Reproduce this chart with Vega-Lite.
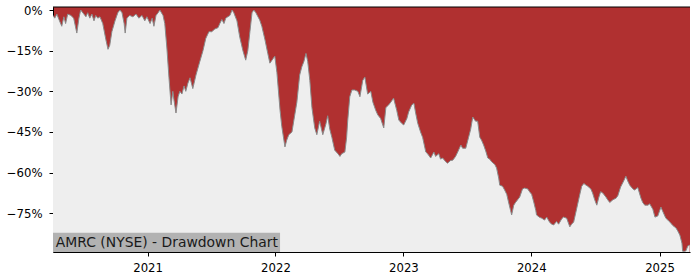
{
  "$schema": "https://vega.github.io/schema/vega-lite/v6.json",
  "width": 637,
  "height": 245,
  "autosize": "none",
  "padding": {"left": 53, "top": 7, "right": 10, "bottom": 28},
  "background": "white",
  "config": {
    "view": {"fill": "#b03030", "stroke": null},
    "font": "DejaVu Sans",
    "axis": {
      "grid": false,
      "domainColor": "black",
      "domainWidth": 1,
      "tickColor": "black",
      "tickWidth": 1,
      "tickSize": 4,
      "labelColor": "black",
      "labelFont": "DejaVu Sans",
      "labelFontSize": 11.7,
      "title": null,
      "zindex": 1
    }
  },
  "data": {
    "values": [
      {"date": "2020-04-06", "drawdown": -0.02},
      {"date": "2020-04-11", "drawdown": -0.03},
      {"date": "2020-04-17", "drawdown": -0.015},
      {"date": "2020-04-23", "drawdown": -0.035},
      {"date": "2020-05-01", "drawdown": -0.06},
      {"date": "2020-05-07", "drawdown": -0.025},
      {"date": "2020-05-12", "drawdown": -0.05},
      {"date": "2020-05-18", "drawdown": -0.015},
      {"date": "2020-05-27", "drawdown": -0.02},
      {"date": "2020-06-04", "drawdown": -0.03},
      {"date": "2020-06-13", "drawdown": -0.085},
      {"date": "2020-06-19", "drawdown": -0.03},
      {"date": "2020-06-24", "drawdown": 0},
      {"date": "2020-07-03", "drawdown": -0.015},
      {"date": "2020-07-09", "drawdown": -0.025},
      {"date": "2020-07-14", "drawdown": -0.01},
      {"date": "2020-07-20", "drawdown": -0.03},
      {"date": "2020-07-26", "drawdown": -0.015},
      {"date": "2020-08-01", "drawdown": -0.04},
      {"date": "2020-08-06", "drawdown": -0.02},
      {"date": "2020-08-12", "drawdown": -0.03},
      {"date": "2020-08-18", "drawdown": -0.025},
      {"date": "2020-08-26", "drawdown": -0.05},
      {"date": "2020-09-04", "drawdown": -0.11},
      {"date": "2020-09-10", "drawdown": -0.145},
      {"date": "2020-09-15", "drawdown": -0.13},
      {"date": "2020-09-21", "drawdown": -0.08},
      {"date": "2020-09-30", "drawdown": -0.04},
      {"date": "2020-10-08", "drawdown": -0.01},
      {"date": "2020-10-14", "drawdown": 0},
      {"date": "2020-10-20", "drawdown": -0.01},
      {"date": "2020-10-26", "drawdown": -0.05},
      {"date": "2020-10-29", "drawdown": -0.085},
      {"date": "2020-11-03", "drawdown": -0.03},
      {"date": "2020-11-11", "drawdown": -0.02},
      {"date": "2020-11-20", "drawdown": -0.025},
      {"date": "2020-11-29", "drawdown": -0.015},
      {"date": "2020-12-07", "drawdown": -0.03},
      {"date": "2020-12-16", "drawdown": -0.02},
      {"date": "2020-12-24", "drawdown": -0.04},
      {"date": "2020-12-30", "drawdown": -0.025},
      {"date": "2021-01-08", "drawdown": -0.05},
      {"date": "2021-01-14", "drawdown": -0.03},
      {"date": "2021-01-19", "drawdown": -0.06},
      {"date": "2021-01-25", "drawdown": -0.02},
      {"date": "2021-01-31", "drawdown": -0.01},
      {"date": "2021-02-05", "drawdown": 0},
      {"date": "2021-02-14", "drawdown": -0.02},
      {"date": "2021-02-19", "drawdown": -0.05},
      {"date": "2021-02-25", "drawdown": -0.14},
      {"date": "2021-03-03", "drawdown": -0.25},
      {"date": "2021-03-09", "drawdown": -0.35},
      {"date": "2021-03-11", "drawdown": -0.33},
      {"date": "2021-03-14", "drawdown": -0.30},
      {"date": "2021-03-17", "drawdown": -0.33},
      {"date": "2021-03-23", "drawdown": -0.38},
      {"date": "2021-03-29", "drawdown": -0.32},
      {"date": "2021-04-03", "drawdown": -0.30},
      {"date": "2021-04-09", "drawdown": -0.31},
      {"date": "2021-04-15", "drawdown": -0.28},
      {"date": "2021-04-20", "drawdown": -0.30},
      {"date": "2021-04-26", "drawdown": -0.27},
      {"date": "2021-05-02", "drawdown": -0.25},
      {"date": "2021-05-10", "drawdown": -0.29},
      {"date": "2021-05-19", "drawdown": -0.24},
      {"date": "2021-05-30", "drawdown": -0.19},
      {"date": "2021-06-08", "drawdown": -0.15},
      {"date": "2021-06-16", "drawdown": -0.105},
      {"date": "2021-06-25", "drawdown": -0.08},
      {"date": "2021-07-03", "drawdown": -0.08},
      {"date": "2021-07-12", "drawdown": -0.07},
      {"date": "2021-07-21", "drawdown": -0.065},
      {"date": "2021-07-26", "drawdown": -0.05},
      {"date": "2021-08-01", "drawdown": -0.035},
      {"date": "2021-08-07", "drawdown": -0.05},
      {"date": "2021-08-12", "drawdown": -0.03},
      {"date": "2021-08-18", "drawdown": -0.025},
      {"date": "2021-08-24", "drawdown": -0.02},
      {"date": "2021-08-30", "drawdown": 0},
      {"date": "2021-09-04", "drawdown": -0.01},
      {"date": "2021-09-13", "drawdown": -0.04},
      {"date": "2021-09-21", "drawdown": -0.10},
      {"date": "2021-09-30", "drawdown": -0.15},
      {"date": "2021-10-08", "drawdown": -0.185},
      {"date": "2021-10-14", "drawdown": -0.15},
      {"date": "2021-10-20", "drawdown": -0.08},
      {"date": "2021-10-26", "drawdown": -0.01},
      {"date": "2021-10-31", "drawdown": 0},
      {"date": "2021-11-06", "drawdown": -0.01},
      {"date": "2021-11-12", "drawdown": -0.025},
      {"date": "2021-11-17", "drawdown": -0.037},
      {"date": "2021-11-23", "drawdown": -0.06},
      {"date": "2021-12-02", "drawdown": -0.11},
      {"date": "2021-12-10", "drawdown": -0.16},
      {"date": "2021-12-16", "drawdown": -0.196},
      {"date": "2021-12-22", "drawdown": -0.185},
      {"date": "2021-12-30", "drawdown": -0.17},
      {"date": "2022-01-05", "drawdown": -0.23},
      {"date": "2022-01-14", "drawdown": -0.37},
      {"date": "2022-01-19", "drawdown": -0.43},
      {"date": "2022-01-28", "drawdown": -0.505},
      {"date": "2022-02-02", "drawdown": -0.48},
      {"date": "2022-02-08", "drawdown": -0.46},
      {"date": "2022-02-17", "drawdown": -0.45},
      {"date": "2022-02-22", "drawdown": -0.41},
      {"date": "2022-03-03", "drawdown": -0.34},
      {"date": "2022-03-11", "drawdown": -0.24},
      {"date": "2022-03-17", "drawdown": -0.21},
      {"date": "2022-03-23", "drawdown": -0.19},
      {"date": "2022-03-29", "drawdown": -0.16},
      {"date": "2022-04-03", "drawdown": -0.19},
      {"date": "2022-04-09", "drawdown": -0.26},
      {"date": "2022-04-15", "drawdown": -0.36},
      {"date": "2022-04-23", "drawdown": -0.435},
      {"date": "2022-04-29", "drawdown": -0.46},
      {"date": "2022-05-07", "drawdown": -0.41},
      {"date": "2022-05-16", "drawdown": -0.46},
      {"date": "2022-05-25", "drawdown": -0.42},
      {"date": "2022-05-30", "drawdown": -0.39},
      {"date": "2022-06-05", "drawdown": -0.44},
      {"date": "2022-06-11", "drawdown": -0.47},
      {"date": "2022-06-19", "drawdown": -0.517},
      {"date": "2022-06-28", "drawdown": -0.53},
      {"date": "2022-07-04", "drawdown": -0.54},
      {"date": "2022-07-09", "drawdown": -0.53},
      {"date": "2022-07-18", "drawdown": -0.524},
      {"date": "2022-07-23", "drawdown": -0.47},
      {"date": "2022-07-26", "drawdown": -0.41},
      {"date": "2022-08-01", "drawdown": -0.32},
      {"date": "2022-08-07", "drawdown": -0.295},
      {"date": "2022-08-15", "drawdown": -0.295},
      {"date": "2022-08-24", "drawdown": -0.30},
      {"date": "2022-08-30", "drawdown": -0.32},
      {"date": "2022-09-07", "drawdown": -0.26},
      {"date": "2022-09-13", "drawdown": -0.247},
      {"date": "2022-09-21", "drawdown": -0.31},
      {"date": "2022-09-30", "drawdown": -0.30},
      {"date": "2022-10-06", "drawdown": -0.34},
      {"date": "2022-10-14", "drawdown": -0.37},
      {"date": "2022-10-20", "drawdown": -0.387},
      {"date": "2022-10-28", "drawdown": -0.40},
      {"date": "2022-11-06", "drawdown": -0.435},
      {"date": "2022-11-12", "drawdown": -0.36},
      {"date": "2022-11-20", "drawdown": -0.35},
      {"date": "2022-11-26", "drawdown": -0.34},
      {"date": "2022-12-04", "drawdown": -0.325},
      {"date": "2022-12-13", "drawdown": -0.37},
      {"date": "2022-12-19", "drawdown": -0.406},
      {"date": "2022-12-27", "drawdown": -0.418},
      {"date": "2023-01-02", "drawdown": -0.424},
      {"date": "2023-01-11", "drawdown": -0.40},
      {"date": "2023-01-16", "drawdown": -0.376},
      {"date": "2023-01-25", "drawdown": -0.35},
      {"date": "2023-01-31", "drawdown": -0.344},
      {"date": "2023-02-05", "drawdown": -0.38},
      {"date": "2023-02-11", "drawdown": -0.418},
      {"date": "2023-02-19", "drawdown": -0.45},
      {"date": "2023-02-25", "drawdown": -0.47},
      {"date": "2023-03-06", "drawdown": -0.524},
      {"date": "2023-03-11", "drawdown": -0.53},
      {"date": "2023-03-20", "drawdown": -0.546},
      {"date": "2023-03-29", "drawdown": -0.524},
      {"date": "2023-04-03", "drawdown": -0.54},
      {"date": "2023-04-12", "drawdown": -0.53},
      {"date": "2023-04-17", "drawdown": -0.55},
      {"date": "2023-04-23", "drawdown": -0.546},
      {"date": "2023-05-02", "drawdown": -0.56},
      {"date": "2023-05-07", "drawdown": -0.565},
      {"date": "2023-05-16", "drawdown": -0.555},
      {"date": "2023-05-22", "drawdown": -0.554},
      {"date": "2023-05-30", "drawdown": -0.54},
      {"date": "2023-06-05", "drawdown": -0.524},
      {"date": "2023-06-14", "drawdown": -0.498},
      {"date": "2023-06-19", "drawdown": -0.51},
      {"date": "2023-06-28", "drawdown": -0.51},
      {"date": "2023-07-06", "drawdown": -0.47},
      {"date": "2023-07-12", "drawdown": -0.44},
      {"date": "2023-07-18", "drawdown": -0.395},
      {"date": "2023-07-26", "drawdown": -0.41},
      {"date": "2023-08-01", "drawdown": -0.41},
      {"date": "2023-08-07", "drawdown": -0.469},
      {"date": "2023-08-12", "drawdown": -0.48},
      {"date": "2023-08-18", "drawdown": -0.498},
      {"date": "2023-08-24", "drawdown": -0.52},
      {"date": "2023-08-30", "drawdown": -0.546},
      {"date": "2023-09-04", "drawdown": -0.55},
      {"date": "2023-09-10", "drawdown": -0.56},
      {"date": "2023-09-19", "drawdown": -0.57},
      {"date": "2023-09-24", "drawdown": -0.583},
      {"date": "2023-09-30", "drawdown": -0.62},
      {"date": "2023-10-03", "drawdown": -0.646},
      {"date": "2023-10-11", "drawdown": -0.65},
      {"date": "2023-10-17", "drawdown": -0.664},
      {"date": "2023-10-23", "drawdown": -0.68},
      {"date": "2023-10-28", "drawdown": -0.708},
      {"date": "2023-11-03", "drawdown": -0.74},
      {"date": "2023-11-06", "drawdown": -0.756},
      {"date": "2023-11-12", "drawdown": -0.72},
      {"date": "2023-11-17", "drawdown": -0.71},
      {"date": "2023-11-23", "drawdown": -0.70},
      {"date": "2023-11-29", "drawdown": -0.69},
      {"date": "2023-12-07", "drawdown": -0.66},
      {"date": "2023-12-13", "drawdown": -0.657},
      {"date": "2023-12-22", "drawdown": -0.66},
      {"date": "2023-12-27", "drawdown": -0.67},
      {"date": "2024-01-02", "drawdown": -0.68},
      {"date": "2024-01-08", "drawdown": -0.708},
      {"date": "2024-01-14", "drawdown": -0.74},
      {"date": "2024-01-16", "drawdown": -0.756},
      {"date": "2024-01-25", "drawdown": -0.765},
      {"date": "2024-01-31", "drawdown": -0.768},
      {"date": "2024-02-08", "drawdown": -0.775},
      {"date": "2024-02-14", "drawdown": -0.764},
      {"date": "2024-02-22", "drawdown": -0.782},
      {"date": "2024-02-28", "drawdown": -0.79},
      {"date": "2024-03-05", "drawdown": -0.793},
      {"date": "2024-03-13", "drawdown": -0.78},
      {"date": "2024-03-19", "drawdown": -0.79},
      {"date": "2024-03-28", "drawdown": -0.77},
      {"date": "2024-04-02", "drawdown": -0.764},
      {"date": "2024-04-11", "drawdown": -0.768},
      {"date": "2024-04-20", "drawdown": -0.80},
      {"date": "2024-04-25", "drawdown": -0.79},
      {"date": "2024-05-01", "drawdown": -0.782},
      {"date": "2024-05-10", "drawdown": -0.73},
      {"date": "2024-05-18", "drawdown": -0.683},
      {"date": "2024-05-24", "drawdown": -0.65},
      {"date": "2024-05-30", "drawdown": -0.64},
      {"date": "2024-06-04", "drawdown": -0.645},
      {"date": "2024-06-10", "drawdown": -0.65},
      {"date": "2024-06-19", "drawdown": -0.66},
      {"date": "2024-06-24", "drawdown": -0.675},
      {"date": "2024-06-30", "drawdown": -0.70},
      {"date": "2024-07-06", "drawdown": -0.72},
      {"date": "2024-07-12", "drawdown": -0.69},
      {"date": "2024-07-17", "drawdown": -0.67},
      {"date": "2024-07-23", "drawdown": -0.675},
      {"date": "2024-08-01", "drawdown": -0.69},
      {"date": "2024-08-06", "drawdown": -0.70},
      {"date": "2024-08-12", "drawdown": -0.71},
      {"date": "2024-08-21", "drawdown": -0.70},
      {"date": "2024-08-30", "drawdown": -0.694},
      {"date": "2024-09-04", "drawdown": -0.685},
      {"date": "2024-09-12", "drawdown": -0.653},
      {"date": "2024-09-21", "drawdown": -0.63},
      {"date": "2024-09-27", "drawdown": -0.613},
      {"date": "2024-10-02", "drawdown": -0.63},
      {"date": "2024-10-08", "drawdown": -0.646},
      {"date": "2024-10-17", "drawdown": -0.66},
      {"date": "2024-10-22", "drawdown": -0.664},
      {"date": "2024-10-31", "drawdown": -0.655},
      {"date": "2024-11-09", "drawdown": -0.694},
      {"date": "2024-11-14", "drawdown": -0.71},
      {"date": "2024-11-20", "drawdown": -0.72},
      {"date": "2024-11-29", "drawdown": -0.72},
      {"date": "2024-12-04", "drawdown": -0.715},
      {"date": "2024-12-13", "drawdown": -0.735},
      {"date": "2024-12-19", "drawdown": -0.764},
      {"date": "2024-12-27", "drawdown": -0.76},
      {"date": "2025-01-05", "drawdown": -0.727},
      {"date": "2025-01-11", "drawdown": -0.745},
      {"date": "2025-01-19", "drawdown": -0.768},
      {"date": "2025-01-25", "drawdown": -0.775},
      {"date": "2025-02-02", "drawdown": -0.786},
      {"date": "2025-02-08", "drawdown": -0.795},
      {"date": "2025-02-17", "drawdown": -0.804},
      {"date": "2025-02-22", "drawdown": -0.815},
      {"date": "2025-02-28", "drawdown": -0.83},
      {"date": "2025-03-06", "drawdown": -0.86},
      {"date": "2025-03-08", "drawdown": -0.89},
      {"date": "2025-03-14", "drawdown": -0.89},
      {"date": "2025-03-17", "drawdown": -0.889},
      {"date": "2025-03-23", "drawdown": -0.87},
      {"date": "2025-03-28", "drawdown": -0.867}
    ]
  },
  "layer": [
    {
      "mark": {"type": "area", "color": "#eeeeee", "clip": true},
      "encoding": {
        "x": {
          "field": "date",
          "type": "temporal",
          "scale": {
            "type": "utc",
            "domain": [
              {"year": 2020, "month": 4, "date": 6, "utc": true},
              {"year": 2025, "month": 3, "date": 29, "utc": true}
            ]
          },
          "axis": {
            "orient": "bottom",
            "format": "%Y",
            "labelPadding": 6,
            "values": [
              {"year": 2021, "month": 1, "date": 1, "utc": true},
              {"year": 2022, "month": 1, "date": 1, "utc": true},
              {"year": 2023, "month": 1, "date": 1, "utc": true},
              {"year": 2024, "month": 1, "date": 1, "utc": true},
              {"year": 2025, "month": 1, "date": 1, "utc": true}
            ]
          }
        },
        "y": {
          "field": "drawdown",
          "type": "quantitative",
          "scale": {"domain": [-0.8927, 0.0111], "nice": false, "zero": false},
          "axis": {
            "orient": "left",
            "format": ".0%",
            "labelPadding": 7,
            "values": [0, -0.15, -0.3, -0.45, -0.6, -0.75]
          }
        },
        "y2": {"datum": -0.8927}
      }
    },
    {
      "mark": {"type": "line", "color": "#8a8a8a", "strokeWidth": 1, "clip": true},
      "encoding": {
        "x": {"field": "date", "type": "temporal"},
        "y": {"field": "drawdown", "type": "quantitative"}
      }
    },
    {
      "data": {"values": [{}]},
      "mark": {"type": "rule", "color": "black", "strokeWidth": 1},
      "encoding": {"y": {"datum": 0.0111, "type": "quantitative"}}
    },
    {
      "data": {"values": [{}]},
      "mark": {"type": "rect", "color": "#b2b2b2"},
      "encoding": {
        "x": {"datum": {"year": 2020, "month": 4, "date": 6, "utc": true}, "type": "temporal"},
        "x2": {"datum": {"year": 2022, "month": 1, "date": 14, "utc": true}},
        "y": {"datum": -0.8927, "type": "quantitative"},
        "y2": {"datum": -0.8215}
      }
    },
    {
      "data": {"values": [{}]},
      "mark": {"type": "text", "align": "left", "baseline": "alphabetic", "fontSize": 13.9, "font": "DejaVu Sans", "color": "#1a1a1a"},
      "encoding": {
        "x": {"datum": {"year": 2020, "month": 4, "date": 14, "utc": true}, "type": "temporal"},
        "y": {"datum": -0.875, "type": "quantitative"},
        "text": {"value": "AMRC (NYSE) - Drawdown Chart"}
      }
    }
  ]
}
